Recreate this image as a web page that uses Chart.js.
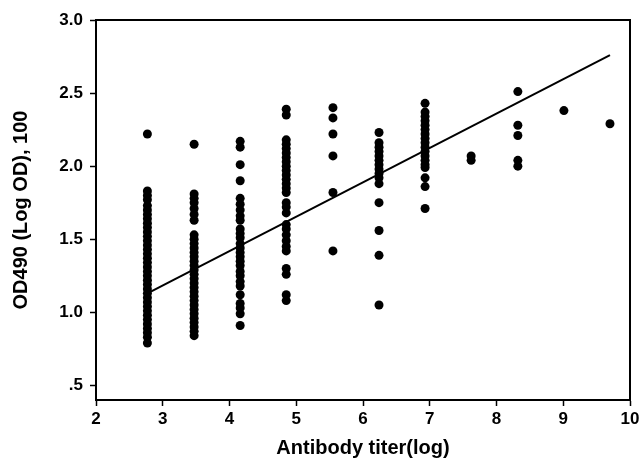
<!DOCTYPE html>
<html>
<head>
<meta charset="utf-8">
<script src="https://cdn.jsdelivr.net/npm/chart.js@4.4.1/dist/chart.umd.min.js"></script>
<style>
  html, body { margin: 0; padding: 0; background: #fff; }
  #wrap { width: 643px; height: 471px; }
</style>
</head>
<body>
<div id="wrap"><canvas id="c"></canvas></div>
<script>
// ln of the titer dilutions (16 ... 16384)
const titers = [2.77, 3.47, 4.16, 4.85, 5.55, 6.24, 6.93, 7.62, 8.32, 9.01, 9.70];

// OD490 readings per titer column
const od16 = [2.22, 1.83, 1.80, 1.77, 1.73, 1.70, 1.67, 1.64, 1.61, 1.58, 1.55, 1.52, 1.49, 1.46,
              1.43, 1.40, 1.37, 1.34, 1.31, 1.28, 1.25, 1.22, 1.19, 1.16, 1.13, 1.10, 1.07,
              1.04, 1.01, 0.98, 0.95, 0.92, 0.89, 0.86, 0.83, 0.79];
const od32 = [2.15, 1.81, 1.78, 1.75, 1.71, 1.67, 1.63, 1.53, 1.50, 1.47, 1.44, 1.41, 1.38, 1.35,
              1.32, 1.29, 1.26, 1.23, 1.20, 1.17, 1.14, 1.11, 1.08, 1.05, 1.02, 0.99, 0.96,
              0.93, 0.90, 0.87, 0.84];
const od64 = [2.17, 2.13, 2.01, 1.90, 1.78, 1.74, 1.70, 1.66, 1.63, 1.57, 1.54, 1.51, 1.47, 1.44,
              1.41, 1.38, 1.35, 1.32, 1.28, 1.25, 1.21, 1.18, 1.12, 1.06, 1.03, 0.99, 0.91];
const od128 = [2.39, 2.35, 2.18, 2.15, 2.12, 2.09, 2.06, 2.03, 2.00, 1.97, 1.94, 1.91, 1.88, 1.85,
               1.82, 1.75, 1.72, 1.68, 1.60, 1.57, 1.53, 1.49, 1.45, 1.42, 1.30, 1.26, 1.12, 1.08];
const od256 = [2.40, 2.33, 2.22, 2.07, 1.82, 1.42];
const od512 = [2.23, 2.16, 2.13, 2.10, 2.07, 2.04, 2.01, 1.98, 1.95, 1.92, 1.88, 1.75, 1.56, 1.39, 1.05];
const od1024 = [2.43, 2.37, 2.34, 2.31, 2.28, 2.25, 2.22, 2.19, 2.16, 2.13, 2.10, 2.07, 2.04, 2.01,
                1.99, 1.92, 1.86, 1.71];
const od2048 = [2.07, 2.04];
const od4096 = [2.51, 2.28, 2.21, 2.04, 2.00];
const od8192 = [2.38];
const od16384 = [2.29];

const columns = [od16, od32, od64, od128, od256, od512, od1024, od2048, od4096, od8192, od16384];

// regression line end points
const fitX = [2.77, 9.70];
const fitY = [1.13, 2.76];

const yTicks = [0.5, 1.0, 1.5, 2.0, 2.5, 3.0];
const yTickLabels = ['.5', '1.0', '1.5', '2.0', '2.5', '3.0'];

const points = [];
columns.forEach((col, i) => col.forEach(v => points.push({x: titers[i], y: v})));

const boxPlugin = {
    id: 'box',
    afterDraw(chart) {
        const {ctx, chartArea: a} = chart;
        ctx.save();
        ctx.strokeStyle = '#000';
        ctx.lineWidth = 2;
        ctx.strokeRect(a.left, a.top, a.right - a.left, a.bottom - a.top);
        ctx.restore();
    }
};

const family = '"Liberation Sans", Arial, sans-serif';
const tickFont = {family: family, size: 17, weight: 'bold'};
const titleFont = {family: family, size: 20, weight: 'bold'};

new Chart(document.getElementById('c'), {
    type: 'scatter',
    data: {
        datasets: [
        {
            type: 'scatter',
            data: points,
            pointRadius: 4.5,
            pointHoverRadius: 4.5,
            backgroundColor: '#000',
            borderWidth: 0,
        },
        {
            type: 'line',
            data: fitX.map((x, i) => ({x: x, y: fitY[i]})),
            borderColor: '#000',
            borderWidth: 2,
            pointRadius: 0,
            fill: false,
        },
        ],
    },
    options: {
        responsive: true,
        maintainAspectRatio: false,
        animation: false,
        layout: { padding: { top: 20, right: 13, left: 0, bottom: 0 } },
        plugins: { legend: { display: false }, tooltip: { enabled: false } },
        scales: {
            x: {
                type: 'linear',
                min: 2,
                max: 10,
                afterFit: s => { s.height = 71; },
                ticks: { stepSize: 1, color: '#000', font: tickFont, padding: 3, maxRotation: 0 },
                grid: { drawOnChartArea: false, tickLength: 6, tickColor: '#000', tickWidth: 1.5 },
                border: { color: '#000', width: 2 },
                title: {
                    display: true,
                    text: 'Antibody titer(log)',
                    color: '#000',
                    font: titleFont,
                    padding: { top: 0, bottom: 11 },
                },
            },
            y: {
                type: 'linear',
                min: 0.4,
                max: 3.0,
                afterFit: s => { s.width = 96; },
                afterBuildTicks: s => { s.ticks = yTicks.map(v => ({value: v})); },
                ticks: {
                    color: '#000',
                    font: tickFont,
                    padding: 7,
                    callback: v => yTickLabels[yTicks.indexOf(v)],
                },
                grid: { drawOnChartArea: false, tickLength: 6, tickColor: '#000', tickWidth: 1.5 },
                border: { color: '#000', width: 2 },
                title: {
                    display: true,
                    text: 'OD490 (Log OD), 100',
                    color: '#000',
                    font: titleFont,
                    padding: { top: 9, bottom: 0 },
                },
            },
        },
    },
    plugins: [boxPlugin],
});
</script>
</body>
</html>
